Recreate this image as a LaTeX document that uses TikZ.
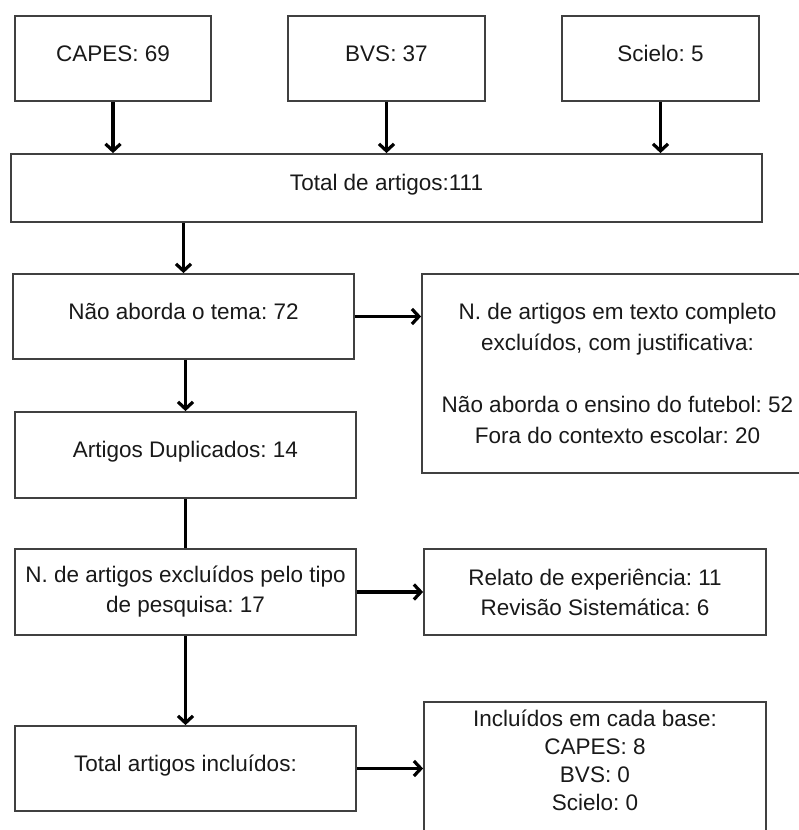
\documentclass[tikz,border=0pt]{standalone}
\usepackage{fontspec}
\setmainfont{Liberation Sans}
\usetikzlibrary{arrows.meta}
\frenchspacing

\begin{document}
\begin{tikzpicture}[x=1pt, y=-1pt, line join=miter]
			\tikzstyle{box}    = [rectangle, draw=black!75, line width=1.8pt, inner sep=0pt, font=\fontsize{22.5}{31}\selectfont, text=black!90, align=center]
			\tikzstyle{single} = [box, text height=.75em, text depth=.25em]
			\tikzstyle{arrow}  = [line width=3.2pt, -{Straight Barb[length=7pt, width=15pt]}]
			\tikzstyle{link}   = [line width=3.2pt]

			\useasboundingbox (0, 0) rectangle (799, 830);
%			\draw[step=50, gray!30] (0, 0) grid (799, 830);

			\foreach \name/\text/\x/\w in {capes/CAPES: 69/113/196, bvs/BVS: 37/386.5/197, scielo/Scielo: 5/660.5/197}
				\node[single, minimum width=\w, minimum height=85] (\name) at (\x, 58.5) {\text};

			\node[single, minimum width=751, minimum height=68] (total) at (386.5, 188) {Total de artigos:111};
			\node[single, minimum width=341, minimum height=85] (tema) at (183.5, 316.5) {Não aborda o tema: 72};
			\node[box, minimum width=391, minimum height=199] (just) at (617.5, 373.5) {N. de artigos em texto completo\\excluídos, com justificativa:\\[31pt]Não aborda o ensino do futebol: 52\\Fora do contexto escolar: 20};
			\node[single, minimum width=341, minimum height=86] (dup) at (185.5, 455) {Artigos Duplicados: 14};
			\node[box, minimum width=341, minimum height=86, font=\fontsize{22.5}{30}\selectfont] (tipo) at (185.5, 592) {N. de artigos excluídos pelo tipo\\de pesquisa: 17};
			\node[box, minimum width=342, minimum height=86, font=\fontsize{22.5}{30}\selectfont] (relato) at (595, 592) {Relato de experiência: 11\\Revisão Sistemática: 6};
			\node[single, minimum width=341, minimum height=85] (incl) at (185.5, 768.5) {Total artigos incluídos:};
			% box runs off the page at the bottom
			\node[box, minimum width=342, anchor=north, text height=109pt, text depth=40pt, font=\fontsize{22.5}{28}\selectfont] (base) at (595, 701) {Incluídos em cada base:\\CAPES: 8\\BVS: 0\\Scielo: 0};

			\foreach \src in {capes, bvs, scielo}
				\draw[arrow] (\src) -- (\src |- total.north);

			\draw[arrow] (tema |- total.south) -- (tema);
			\draw[arrow] (tema) -- (tema -| just.west);
			\draw[arrow] (dup |- tema.south) -- (dup);
			\draw[link] (dup) -- (tipo);

			\foreach \from/\to in {tipo/relato, tipo/incl}
				\draw[arrow] (\from) -- (\to);
			\draw[arrow] (incl) -- (incl -| base.west);
		\end{tikzpicture}
\end{document}
